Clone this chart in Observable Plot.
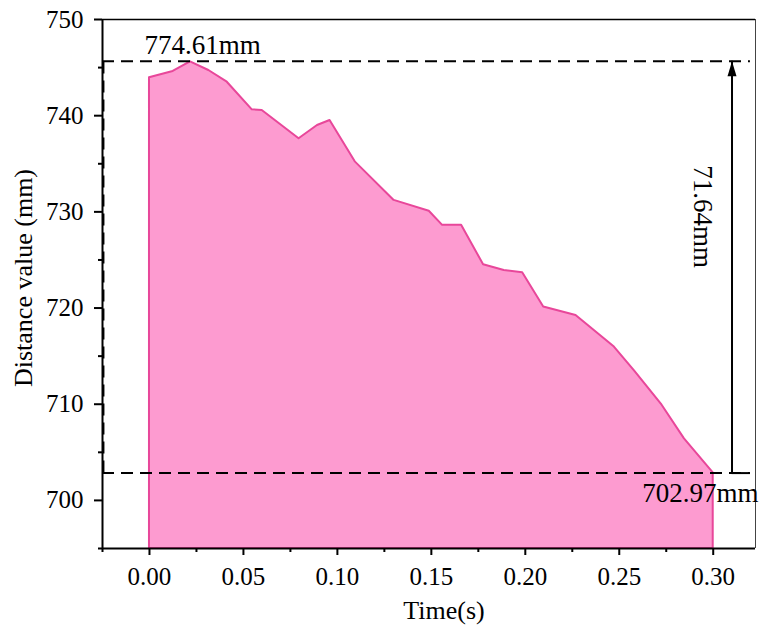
<!DOCTYPE html>
<html>
<head>
<meta charset="utf-8">
<script src="https://cdn.jsdelivr.net/npm/d3@7"></script>
<script src="https://cdn.jsdelivr.net/npm/@observablehq/plot@0.6"></script>
<style>
  html, body { margin: 0; padding: 0; background: #fff; }
  #chart svg { display: block; }
  #chart svg text { font-family: "Liberation Serif", "Times New Roman", serif; }
</style>
</head>
<body>
<div id="chart"></div>
<script>
// ---- data ----
const times = [0.000, 0.0126, 0.0218, 0.0316, 0.0414, 0.0547, 0.0600, 0.0796, 0.0894, 0.0961, 0.1095, 0.1302, 0.1489, 0.1560, 0.1661, 0.1778, 0.1888, 0.1986, 0.2098, 0.2270, 0.2474, 0.2580, 0.2728, 0.2847, 0.3000];
const distances = [743.94, 744.60, 745.60, 744.70, 743.48, 740.61, 740.54, 737.60, 738.98, 739.50, 735.20, 731.19, 730.07, 728.60, 728.60, 724.50, 723.90, 723.67, 720.10, 719.23, 715.94, 713.50, 709.90, 706.40, 702.87];
const xTicks = [0.00, 0.05, 0.10, 0.15, 0.20, 0.25, 0.30];
const xMinorTicks = [-0.025, 0.025, 0.075, 0.125, 0.175, 0.225, 0.275];
const yTicks = [700, 710, 720, 730, 740, 750];
const yMinorTicks = [695, 705, 715, 725, 735, 745];
const xDomain = [-0.025, 0.3225];
const yDomain = [695, 750];
const maxLevel = 745.67;
const minLevel = 702.84;
const arrowX = 0.31;
const dashEndX = 0.3198;
const maxLabel = "774.61mm";
const minLabel = "702.97mm";
const diffLabel = "71.64mm";
const xLabel = "Time(s)";
const yLabel = "Distance value (mm)";

const data = times.map((t, i) => ({t, d: distances[i]}));
const FONT = '"Liberation Serif", "Times New Roman", serif';

// custom filled arrowhead symbol (tip at the anchor point, pointing up)
const arrowHead = {
  draw(ctx) {
    ctx.moveTo(0, 0);
    ctx.lineTo(-4.5, 15);
    ctx.lineTo(4.5, 15);
    ctx.closePath();
  }
};

const plot = Plot.plot({
  width: 759,
  height: 630,
  marginLeft: 102,
  marginRight: 4,
  marginTop: 19,
  marginBottom: 82,
  style: {fontFamily: FONT, fontSize: "25px", color: "#000", background: "#fff"},
  x: {domain: xDomain},
  y: {domain: yDomain},
  marks: [
    Plot.areaY(data, {x: "t", y1: yDomain[0], y2: "d", fill: "#fd9bd0", stroke: "#e8479a", strokeWidth: 2}),
    // dashed reference lines
    Plot.ruleY([maxLevel, minLevel], {x1: xDomain[0], x2: dashEndX, stroke: "#000", strokeWidth: 2, strokeDasharray: "12,7"}),
    Plot.ruleX([xDomain[0] + 0.0005], {y1: minLevel, y2: maxLevel, stroke: "#000", strokeWidth: 2, strokeDasharray: "12,7"}),
    // arrow
    Plot.ruleY([minLevel], {x1: arrowX, x2: dashEndX, stroke: "#000", strokeWidth: 2}),
    Plot.ruleX([arrowX], {y1: minLevel, y2: maxLevel, stroke: "#000", strokeWidth: 2}),
    Plot.dot([{x: arrowX, y: maxLevel}], {x: "x", y: "y", symbol: arrowHead, fill: "#000", stroke: "none", r: 5}),
    // frame
    Plot.ruleY([yDomain[1]], {stroke: "#000", strokeWidth: 1.5}),
    Plot.ruleX([xDomain[1]], {stroke: "#444", strokeWidth: 1}),
    Plot.ruleX([xDomain[0]], {stroke: "#000", strokeWidth: 2}),
    Plot.ruleY([yDomain[0]], {stroke: "#000", strokeWidth: 2}),
    // axes
    Plot.axisX({ticks: xTicks, tickSize: 7, tickPadding: 12, tickFormat: d3.format(".2f"), label: null, strokeWidth: 2, fontSize: 25, fontFamily: FONT}),
    Plot.axisX({ticks: xMinorTicks, tickSize: 4, tickFormat: () => "", label: null, strokeWidth: 2}),
    Plot.axisY({ticks: yTicks, tickSize: 8, tickPadding: 11, tickFormat: d => String(d), label: null, strokeWidth: 2, fontSize: 25, fontFamily: FONT}),
    Plot.axisY({ticks: yMinorTicks, tickSize: 4, tickFormat: () => "", label: null, strokeWidth: 2}),
    // annotations
    Plot.text([maxLabel], {text: d => d, x: 0, y: maxLevel, textAnchor: "start", dx: -5, dy: -16, fontSize: 27, fontFamily: FONT, fill: "#000"}),
    Plot.text([minLabel], {text: d => d, x: 0.30, y: minLevel, textAnchor: "start", dx: -71, dy: 20, fontSize: 27, fontFamily: FONT, fill: "#000"}),
    Plot.text([diffLabel], {text: d => d, x: arrowX, y: 729.5, rotate: 90, dx: -29, fontSize: 27, fontFamily: FONT, fill: "#000"}),
    // axis titles
    Plot.text([yLabel], {text: d => d, frameAnchor: "left", textAnchor: "middle", rotate: -90, dx: -79, dy: -6, fontSize: 26, fontFamily: FONT, fill: "#000"}),
    Plot.text([xLabel], {text: d => d, frameAnchor: "bottom", textAnchor: "middle", dx: 15, dy: 70, fontSize: 26, fontFamily: FONT, fill: "#000"})
  ]
});

document.getElementById("chart").appendChild(plot);
</script>
</body>
</html>
